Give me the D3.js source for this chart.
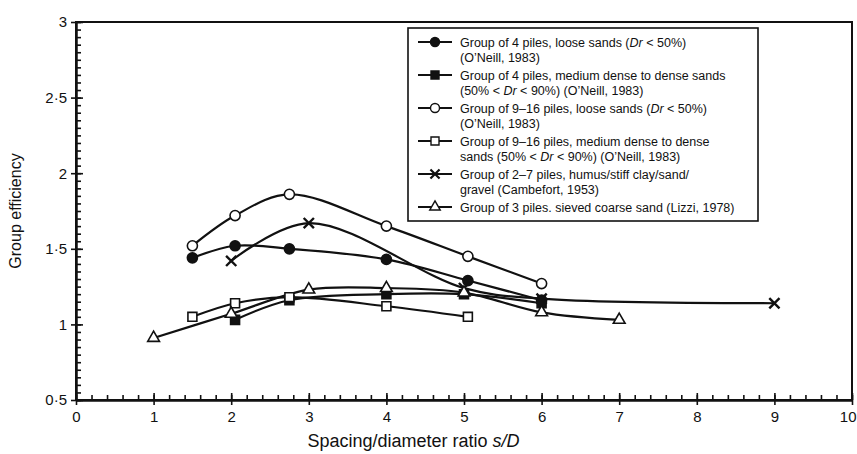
<!DOCTYPE html>
<html>
<head>
<meta charset="utf-8">
<script src="https://cdn.jsdelivr.net/npm/d3@7"></script>
<style>
  html, body { margin: 0; padding: 0; background: #fff; overflow: hidden; }
  svg { display: block; }
  text { font-family: "Liberation Sans", Arial, sans-serif; fill: #111; }
</style>
</head>
<body>
<div id="chart"></div>
<script>
// ---- data ----
const xTicks = [0, 1, 2, 3, 4, 5, 6, 7, 8, 9, 10];
const yTicks = [0.5, 1, 1.5, 2, 2.5, 3];

const fourLoose    = [[1.5, 1.44], [2.05, 1.52], [2.75, 1.50], [4, 1.43], [5.05, 1.29], [6, 1.16]];
const fourDense    = [[2.05, 1.03], [2.75, 1.16], [4, 1.20], [5, 1.20], [6, 1.14]];
const nineLoose    = [[1.5, 1.52], [2.05, 1.72], [2.75, 1.86], [4, 1.65], [5.05, 1.45], [6, 1.27]];
const nineDense    = [[1.5, 1.05], [2.05, 1.14], [2.75, 1.18], [4, 1.12], [5.05, 1.05]];
const twoSevenClay = [[2, 1.42], [3, 1.67], [5, 1.24], [6, 1.17], [9, 1.14]];
const threeSand    = [[1, 0.91], [2, 1.07], [3, 1.23], [4, 1.24], [5, 1.21], [6, 1.08], [7, 1.03]];

const legendLabels = [
  ["Group of 4 piles, loose sands (Dr < 50%)", "(O’Neill, 1983)"],
  ["Group of 4 piles, medium dense to dense sands", "(50% < Dr < 90%) (O’Neill, 1983)"],
  ["Group of 9–16 piles, loose sands (Dr < 50%)", "(O’Neill, 1983)"],
  ["Group of 9–16 piles, medium dense to dense", "sands (50% < Dr < 90%) (O’Neill, 1983)"],
  ["Group of 2–7 piles, humus/stiff clay/sand/", "gravel (Cambefort, 1953)"],
  ["Group of 3 piles. sieved coarse sand (Lizzi, 1978)"]
];

// marker style for each series, same order as the legend
const series = [
  {points: fourLoose,    symbol: d3.symbolCircle,   fill: "#111", size: 80},
  {points: fourDense,    symbol: d3.symbolSquare,   fill: "#111", size: 80},
  {points: nineLoose,    symbol: d3.symbolCircle,   fill: "#fff", size: 80},
  {points: nineDense,    symbol: d3.symbolSquare,   fill: "#fff", size: 80},
  {points: twoSevenClay, symbol: d3.symbolX,        fill: "none", size: 70},
  {points: threeSand,    symbol: d3.symbolTriangle, fill: "#fff", size: 60}
];

// ---- layout ----
const width = 857, height = 454;
const margin = {top: 22, right: 5, bottom: 54, left: 76};
const innerWidth = width - margin.left - margin.right;
const innerHeight = height - margin.top - margin.bottom;

const svg = d3.select("#chart")
  .append("svg")
  .attr("width", width)
  .attr("height", height);

const innerChart = svg
  .append("g")
  .attr("transform", `translate(${margin.left}, ${margin.top})`);

const xScale = d3.scaleLinear().domain([0, 10]).range([0, innerWidth]);
const yScale = d3.scaleLinear().domain([0.5, 3]).range([innerHeight, 0]);

const fmt = d => d3.format("~g")(d).replace(".", "·");

// frame (top and right)
innerChart.append("rect")
  .attr("width", innerWidth)
  .attr("height", innerHeight)
  .attr("fill", "none")
  .attr("stroke", "#111")
  .attr("stroke-width", 2);

// inward minor and major ticks (no labels)
const tickOnly = (axis) => g => { g.call(axis); g.selectAll("text").remove(); g.select(".domain").remove(); };

innerChart.append("g")
  .attr("transform", `translate(0, ${innerHeight})`)
  .call(tickOnly(d3.axisBottom(xScale).tickValues(d3.range(0, 10.001, 0.2)).tickSize(-5)));
innerChart.append("g")
  .attr("transform", `translate(0, ${innerHeight})`)
  .call(tickOnly(d3.axisBottom(xScale).tickValues(xTicks).tickSize(-7)));
innerChart.append("g")
  .call(tickOnly(d3.axisLeft(yScale).tickValues(d3.range(0.5, 3.001, 0.05)).tickSize(-5)));
innerChart.append("g")
  .call(tickOnly(d3.axisLeft(yScale).tickValues(yTicks).tickSize(-7)));

// labelled axes with outward major ticks
const xAxisG = innerChart.append("g")
  .attr("transform", `translate(0, ${innerHeight})`)
  .call(d3.axisBottom(xScale).tickValues(xTicks).tickFormat(d3.format("d")).tickSize(5).tickPadding(6).tickSizeOuter(0));
// keep the last label inside the page
xAxisG.selectAll(".tick text").filter(d => d === 10).attr("text-anchor", "end").attr("x", 4);

innerChart.append("g")
  .call(d3.axisLeft(yScale).tickValues(yTicks).tickFormat(fmt).tickSize(5).tickPadding(4).tickSizeOuter(0));

innerChart.selectAll(".domain").attr("stroke", "#111").attr("stroke-width", 2.5);
innerChart.selectAll(".tick line").attr("stroke", "#111").attr("stroke-width", 1.6);
innerChart.selectAll(".tick text").style("font-size", "15px").attr("fill", "#111");

// axis titles
svg.append("text")
  .attr("transform", `translate(21, ${margin.top + innerHeight / 2}) rotate(-90)`)
  .attr("text-anchor", "middle")
  .style("font-size", "16px")
  .text("Group efficiency");

const xTitle = svg.append("text")
  .attr("x", margin.left + xScale(4.35))
  .attr("y", 447)
  .attr("text-anchor", "middle")
  .style("font-size", "18px");
xTitle.append("tspan").text("Spacing/diameter ratio ");
xTitle.append("tspan").style("font-style", "italic").text("s/D");

// lines and markers
const lineGenerator = d3.line()
  .x(d => xScale(d[0]))
  .y(d => yScale(d[1]))
  .curve(d3.curveCatmullRom.alpha(0.5));

series.forEach(s => {
  innerChart.append("path")
    .attr("d", lineGenerator(s.points))
    .attr("fill", "none")
    .attr("stroke", "#111")
    .attr("stroke-width", 2.2);
});

series.forEach(s => {
  innerChart.selectAll(null)
    .data(s.points)
    .join("path")
      .attr("transform", d => `translate(${xScale(d[0])}, ${yScale(d[1])})`)
      .attr("d", d3.symbol(s.symbol, s.size))
      .attr("fill", s.fill)
      .attr("stroke", "#111")
      .attr("stroke-width", s.symbol === d3.symbolX ? 2.4 : 1.6);
});

// legend
const legend = svg.append("g").attr("transform", "translate(408, 28)");
legend.append("rect")
  .attr("width", 350)
  .attr("height", 193)
  .attr("fill", "#fff")
  .attr("stroke", "#111")
  .attr("stroke-width", 1.6);

legendLabels.forEach((lines, i) => {
  const y = 14 + i * 33;
  const row = legend.append("g").attr("transform", `translate(0, ${y})`);
  row.append("line")
    .attr("x1", 10).attr("x2", 44)
    .attr("stroke", "#111").attr("stroke-width", 2.2);
  row.append("path")
    .attr("transform", "translate(27, 0)")
    .attr("d", d3.symbol(series[i].symbol, series[i].size * 0.8))
    .attr("fill", series[i].fill)
    .attr("stroke", "#111")
    .attr("stroke-width", series[i].symbol === d3.symbolX ? 2.2 : 1.4);
  lines.forEach((line, j) => {
    const t = row.append("text")
      .attr("x", 52)
      .attr("y", j * 15.5 + 4.5)
      .style("font-size", "12.5px");
    const parts = line.split(/(Dr)/);
    if (parts.length === 1) {
      t.text(line);
    } else {
      parts.forEach(part => {
        t.append("tspan")
          .style("font-style", part === "Dr" ? "italic" : "normal")
          .text(part);
      });
    }
  });
});
</script>
</body>
</html>
